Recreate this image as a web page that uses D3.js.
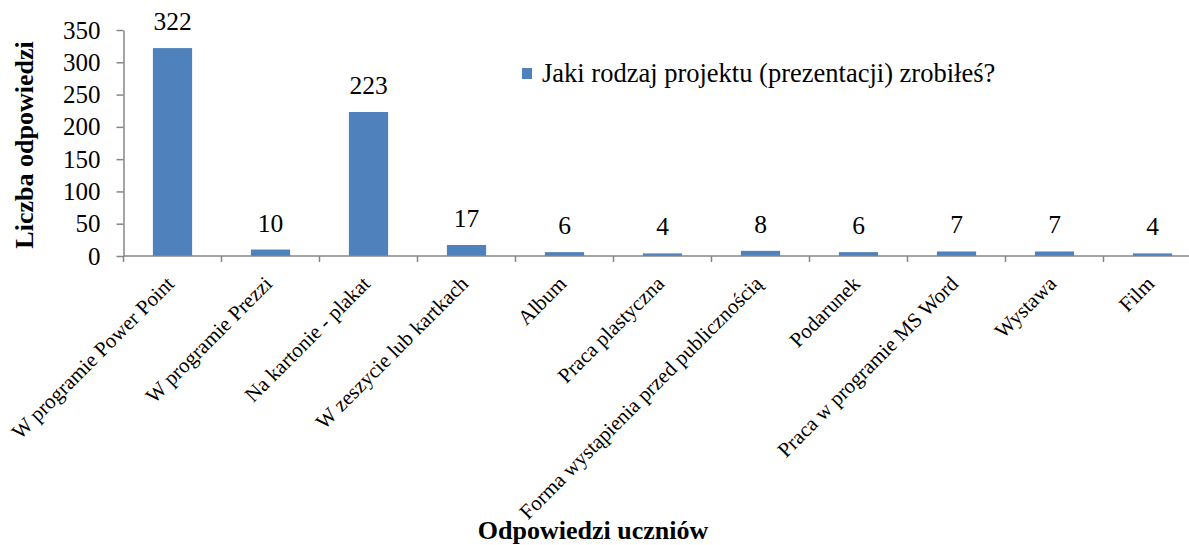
<!DOCTYPE html>
<html>
<head>
<meta charset="utf-8">
<script src="https://cdn.jsdelivr.net/npm/d3@7"></script>
<style>
  body { margin: 0; background: #fff; }
  svg { display: block; }
  svg text { font-family: "Liberation Serif", "Times New Roman", serif; fill: #000; }
</style>
</head>
<body>
<div id="chart"></div>
<script>
// data
var categories = [
  "W programie Power Point",
  "W programie Prezzi",
  "Na kartonie - plakat",
  "W zeszycie lub kartkach",
  "Album",
  "Praca plastyczna",
  "Forma wystąpienia przed publicznością",
  "Podarunek",
  "Praca w programie MS Word",
  "Wystawa",
  "Film"
]
var values = [322, 10, 223, 17, 6, 4, 8, 6, 7, 7, 4]
var yTicks = [0, 50, 100, 150, 200, 250, 300, 350]
var seriesName = "Jaki rodzaj projektu (prezentacji) zrobiłeś?"
var yTitle = "Liczba odpowiedzi"
var xTitle = "Odpowiedzi uczniów"

var W = 1189, H = 545
var axisColor = "#868686", barColor = "#4F81BD"

var svg = d3.select("#chart")
  .append("svg")
  .attr("width", W)
  .attr("height", H)

// scales (the last band runs past the right edge, as in the original)
var x = d3.scaleBand()
  .domain(categories)
  .range([123.5, 1201.5])
  .padding(0)

var y = d3.scaleLinear()
  .domain([0, 350])
  .range([256, 30])

var barW = x.bandwidth() * 0.4

// bars
svg.append("g")
  .selectAll("rect")
  .data(values)
  .enter()
  .append("rect")
    .attr("x", function (d, i) { return x(categories[i]) + (x.bandwidth() - barW) / 2 })
    .attr("y", function (d) { return y(d) })
    .attr("width", barW)
    .attr("height", function (d) { return y(0) - y(d) })
    .style("fill", barColor)

// value labels
svg.append("g")
  .selectAll("text")
  .data(values)
  .enter()
  .append("text")
    .attr("x", function (d, i) { return x(categories[i]) + x.bandwidth() / 2 })
    .attr("y", function (d) { return y(d) - 18 })
    .attr("text-anchor", "middle")
    .style("font-size", "25.5px")
    .text(function (d) { return d })

// y axis
var yAxis = svg.append("g")
  .attr("transform", "translate(123.5,0)")
  .call(d3.axisLeft(y).tickValues(yTicks).tickSize(7).tickSizeOuter(0).tickPadding(16))
yAxis.selectAll("path, line").attr("stroke", axisColor).attr("stroke-width", 1.5)
yAxis.selectAll("text")
  .style("font-size", "25px")

// x axis: line + ticks at band boundaries
var xAxis = svg.append("g")
xAxis.append("line")
  .attr("x1", x.range()[0]).attr("x2", x.range()[1])
  .attr("y1", y(0)).attr("y2", y(0))
  .attr("stroke", axisColor).attr("stroke-width", 1.5)
var bounds = categories.map(function (c) { return x(c) }).concat([x.range()[1]])
xAxis.selectAll("line.tick")
  .data(bounds)
  .enter()
  .append("line")
    .attr("class", "tick")
    .attr("x1", function (d) { return d }).attr("x2", function (d) { return d })
    .attr("y1", y(0)).attr("y2", y(0) + 6)
    .attr("stroke", axisColor).attr("stroke-width", 1.5)

// rotated category labels
xAxis.selectAll("text")
  .data(categories)
  .enter()
  .append("text")
    .attr("transform", function (d) {
      return "translate(" + (x(d) + x.bandwidth() / 2 + 3) + "," + 285 + ") rotate(-45)"
    })
    .attr("text-anchor", "end")
    .style("font-size", "21px")
    .text(function (d) { return d })

// axis titles
svg.append("text")
  .attr("transform", "translate(33,145) rotate(-90)")
  .attr("text-anchor", "middle")
  .style("font-size", "26px")
  .style("font-weight", "bold")
  .text(yTitle)

svg.append("text")
  .attr("x", 593)
  .attr("y", 539)
  .attr("text-anchor", "middle")
  .style("font-size", "26px")
  .style("font-weight", "bold")
  .text(xTitle)

// legend
var legend = svg.append("g")
legend.append("rect")
  .attr("x", 522).attr("y", 68)
  .attr("width", 10).attr("height", 11)
  .style("fill", barColor)
legend.append("text")
  .attr("x", 542).attr("y", 82)
  .style("font-size", "26.5px")
  .text(seriesName)
</script>
</body>
</html>
